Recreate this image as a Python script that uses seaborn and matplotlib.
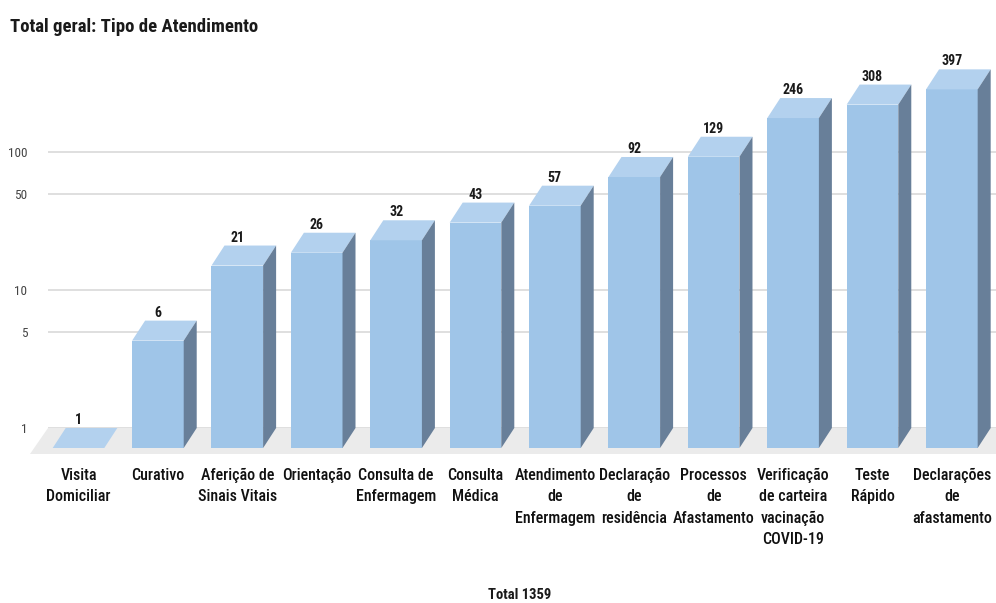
import matplotlib
matplotlib.use("Agg")
import matplotlib.pyplot as plt
from matplotlib import font_manager as fm
from matplotlib.patches import Polygon
from matplotlib.transforms import ScaledTranslation, IdentityTransform
from matplotlib.ticker import NullLocator
import seaborn as sns
import pandas as pd

# Atendimentos por tipo
categories = [
    "Visita\nDomiciliar", "Curativo", "Aferição de\nSinais Vitais", "Orientação",
    "Consulta de\nEnfermagem", "Consulta\nMédica", "Atendimento\nde\nEnfermagem",
    "Declaração\nde\nresidência", "Processos\nde\nAfastamento",
    "Verificação\nde carteira\nvacinação\nCOVID-19", "Teste\nRápido",
    "Declarações\nde\nafastamento",
]
values = [1, 6, 21, 26, 32, 43, 57, 92, 129, 246, 308, 397]
y_ticks = [1, 5, 10, 50, 100]
title = "Total geral: Tipo de Atendimento"
total_label = "Total 1359"

W, H, DPI = 996, 603, 100
FRONT = "#9fc5e8"
TOP = "#b3d1ee"
SIDE = "#687f99"
FLOOR = "#ebebeb"
GRID = "#d9d9d9"
DEPTH_X, DEPTH_Y = 13, 20    # bar depth (pixels)
FLOOR_X, FLOOR_Y = 18, 26    # floor depth (pixels)

sns.set_theme(style="white")

# prefer a narrow sans face; fall back to Liberation Sans at a smaller size
installed = {f.name for f in fm.fontManager.ttflist}
narrow_candidates = ["Liberation Sans Narrow", "Arial Narrow", "Roboto Condensed",
                     "DejaVu Sans Condensed", "Open Sans Condensed"]
narrow = next((n for n in narrow_candidates if n in installed), None)
if narrow:
    plt.rcParams["font.family"] = [narrow, "DejaVu Sans"]
    K = 1.0
else:
    plt.rcParams["font.family"] = ["Liberation Sans", "DejaVu Sans"]
    K = 0.84

fig = plt.figure(figsize=(W / DPI, H / DPI), dpi=DPI)
# axes rectangle = back plane of the 3D box
ax = fig.add_axes([48 / W, 1 - 428 / H, (W - 48) / W, (428 - 40) / H])

df = pd.DataFrame({"tipo": categories, "total": values})
sns.barplot(data=df, x="tipo", y="total", color=FRONT, saturation=1,
            width=0.65, ax=ax, zorder=3)
bars = list(ax.patches)

ax.set_yscale("log")
ax.set_ylim(1, 10 ** ((428 - 40) / 138))
ax.set_xlim(-0.548, 11.392)
ax.yaxis.set_minor_locator(NullLocator())
ax.set_yticks(y_ticks)
ax.set_yticklabels([str(t) for t in y_ticks])
ax.set_xticks([])
ax.set_xlabel("")
ax.set_ylabel("")
for s in ax.spines.values():
    s.set_visible(False)
ax.yaxis.grid(True, color=GRID, lw=1.2, zorder=0)
ax.set_axisbelow(True)
ax.tick_params(axis="y", length=0, pad=15, labelsize=9.5 * K, labelcolor="#444444")

front = ScaledTranslation(-DEPTH_X / DPI, -DEPTH_Y / DPI, fig.dpi_scale_trans)
ident = IdentityTransform()

# floor of the 3D box
(l, b), (r, _) = ax.transAxes.transform([(0, 0), (1, 0)])
r += 40
floor = Polygon([(l, b), (r, b), (r - FLOOR_X, b - FLOOR_Y), (l - FLOOR_X, b - FLOOR_Y)],
                closed=True, transform=ident, facecolor=FLOOR, edgecolor="none",
                zorder=1, clip_on=False)
ax.add_artist(floor)

for p in bars:
    x0, w = p.get_x(), p.get_width()
    v = p.get_y() + p.get_height()
    # front face: from the floor up to the value, shifted toward the viewer
    p.set_y(1)
    p.set_height(v - 1)
    p.set_transform(ax.transData + front)
    p.set_clip_on(False)
    p.set_edgecolor("none")

    (bx0, by), (bx1, _) = ax.transData.transform([(x0, v), (x0 + w, v)])
    fy = ax.transData.transform((x0, 1))[1]
    top = Polygon([(bx0, by), (bx1, by), (bx1 - DEPTH_X, by - DEPTH_Y), (bx0 - DEPTH_X, by - DEPTH_Y)],
                  closed=True, transform=ident, facecolor=TOP, edgecolor="none",
                  zorder=4, clip_on=False)
    side = Polygon([(bx1, by), (bx1, fy), (bx1 - DEPTH_X, fy - DEPTH_Y), (bx1 - DEPTH_X, by - DEPTH_Y)],
                   closed=True, transform=ident, facecolor=SIDE, edgecolor="none",
                   zorder=4, clip_on=False)
    ax.add_artist(top)
    ax.add_artist(side)

    ax.text(x0 + w / 2, v, f"{v:g}", ha="center", va="bottom", fontsize=10 * K,
            fontweight="bold", color="#1a1a1a", zorder=6, clip_on=False,
            transform=ax.transData + ScaledTranslation(-DEPTH_X / DPI, 1 / DPI, fig.dpi_scale_trans))

# category labels under the front faces
label_tr = ax.get_xaxis_transform() + ScaledTranslation(-DEPTH_X / DPI, -40 / DPI, fig.dpi_scale_trans)
for p, cat in zip(bars, categories):
    ax.text(p.get_x() + p.get_width() / 2, 0, cat, ha="center", va="top",
            fontsize=11.5 * K, fontweight="medium", color="#111111",
            linespacing=1.53 / K, transform=label_tr, clip_on=False)

fig.text(10 / W, 1 - 27 / H, title, ha="left", va="center", fontsize=13.5 * K,
         fontweight="bold", color="#1a1a1a")
fig.text(520 / W, 1 - 595 / H, total_label, ha="center", va="center", fontsize=10.5 * K,
         fontweight="bold", color="#1a1a1a")

fig.savefig("out.png", dpi=DPI)
